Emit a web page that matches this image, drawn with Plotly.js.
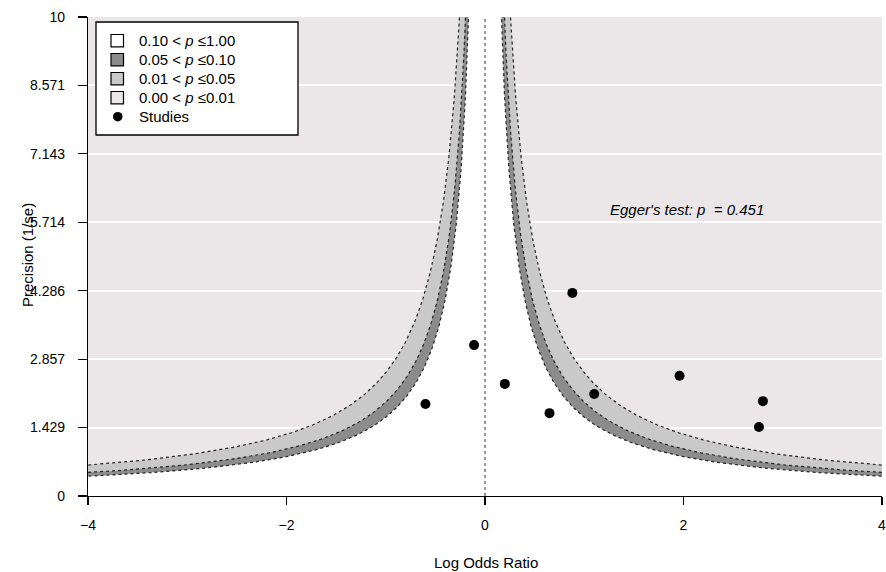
<!DOCTYPE html>
<html>
<head>
<meta charset="utf-8">
<script src="https://cdn.plot.ly/plotly-3.0.1.min.js"></script>
<style>
  html, body { margin: 0; padding: 0; background: #ffffff; }
  #chart { width: 886px; height: 572px; }
</style>
</head>
<body>
<div id="chart"></div>
<script>
// ---- data ----
var studyLogOR     = [-0.60, -0.11, 0.20, 0.65, 0.88, 1.10, 1.96, 2.80, 2.76];
var studyPrecision = [1.92, 3.15, 2.34, 1.73, 4.24, 2.13, 2.51, 1.98, 1.44];

// contour z-values (two-sided p = 0.10, 0.05, 0.01)
var contourZ      = [1.645, 1.96, 2.576];
var contourColors = ['#ffffff', '#8c8c8c', '#c9c9c9'];
var outerColor    = '#ebe6e8';

var legendLabels = [
  '0.10 &lt; <i>p</i> ≤1.00',
  '0.05 &lt; <i>p</i> ≤0.10',
  '0.01 &lt; <i>p</i> ≤0.05',
  '0.00 &lt; <i>p</i> ≤0.01',
  'Studies'
];
var legendFills = ['#ffffff', '#8c8c8c', '#c9c9c9', '#ebe6e8'];

var yTickVals = [0, 1.429, 2.857, 4.286, 5.714, 7.143, 8.571, 10];
var yTickText = ['0', '1.429', '2.857', '4.286', '5.714', '7.143', '8.571', '10'];
var xTickVals = [-4, -2, 0, 2, 4];
var xTickText = ['\u22124', '\u22122', '0', '2', '4'];

var eggerText = "Egger's test: <i>p</i>  = 0.451";
var xTitle = 'Log Odds Ratio';
var yTitle = 'Precision (1/se)';

// ---- contour curves x = ±z / precision ----
var precGrid = [];
(function () {
  var lo = Math.log(0.2), hi = Math.log(10.5), n = 300;
  for (var i = 0; i <= n; i++) precGrid.push(Math.exp(lo + (hi - lo) * i / n));
})();

function funnelPolygon(z) {
  var xs = [], ys = [];
  for (var i = precGrid.length - 1; i >= 0; i--) { xs.push(-z / precGrid[i]); ys.push(precGrid[i]); }
  xs.push(-z / precGrid[0]); ys.push(0);
  xs.push(z / precGrid[0]); ys.push(0);
  for (var j = 0; j < precGrid.length; j++) { xs.push(z / precGrid[j]); ys.push(precGrid[j]); }
  return { x: xs, y: ys };
}
function curve(z, sign) {
  return { x: precGrid.map(function (p) { return sign * z / p; }), y: precGrid.slice() };
}

var traces = [];
[2, 1, 0].forEach(function (k) {
  var poly = funnelPolygon(contourZ[k]);
  traces.push({
    type: 'scatter', mode: 'lines', x: poly.x, y: poly.y,
    fill: 'toself', fillcolor: contourColors[k],
    line: { width: 0 }, hoverinfo: 'skip', showlegend: false
  });
});
contourZ.forEach(function (z) {
  [-1, 1].forEach(function (s) {
    var c = curve(z, s);
    traces.push({
      type: 'scatter', mode: 'lines', x: c.x, y: c.y,
      line: { color: '#222222', width: 1.2, dash: 'dot' },
      hoverinfo: 'skip', showlegend: false
    });
  });
});
traces.push({
  type: 'scatter', mode: 'lines', x: [0, 0], y: [0, 10],
  line: { color: '#333333', width: 1, dash: 'dot' },
  hoverinfo: 'skip', showlegend: false
});
traces.push({
  type: 'scatter', mode: 'markers', x: studyLogOR, y: studyPrecision,
  marker: { color: '#000000', size: 10 }, showlegend: false
});

var FONT = 'Liberation Sans, Arial, sans-serif';

// plot-area geometry (pixels) for placing the hand-built legend
var PL = 88, PR = 882, PT = 17, PB = 496;
function px(x) { return (x - PL) / (PR - PL); }
function py(y) { return (PB - y) / (PB - PT); }

var shapes = [{
  type: 'rect', xref: 'paper', yref: 'paper', layer: 'above',
  x0: px(96), x1: px(298), y0: py(135), y1: py(22),
  fillcolor: '#ffffff', line: { color: '#000000', width: 1.3 }
}];
var annotations = [];
var rowY0 = 40.7, rowStep = 19;
legendLabels.forEach(function (lab, i) {
  var cy = rowY0 + rowStep * i;
  if (i < 4) {
    shapes.push({
      type: 'rect', xref: 'paper', yref: 'paper', layer: 'above',
      x0: px(111), x1: px(123.5), y0: py(cy + 6.2), y1: py(cy - 6.2),
      fillcolor: legendFills[i], line: { color: '#000000', width: 1.2 }
    });
  } else {
    shapes.push({
      type: 'circle', xref: 'paper', yref: 'paper', layer: 'above',
      x0: px(113), x1: px(122.5), y0: py(cy + 4.75), y1: py(cy - 4.75),
      fillcolor: '#000000', line: { color: '#000000', width: 0 }
    });
  }
  annotations.push({
    text: lab, xref: 'paper', yref: 'paper', x: px(137), y: py(cy),
    xanchor: 'left', yanchor: 'middle', showarrow: false,
    font: { family: FONT, size: 15, color: '#000000' }
  });
});

annotations.push(
  {
    text: eggerText, xref: 'x', yref: 'y', x: 2.035, y: 5.99,
    xanchor: 'center', yanchor: 'middle',
    showarrow: false, font: { family: FONT, size: 15, style: 'italic' }
  },
  {
    text: xTitle, xref: 'paper', yref: 'paper',
    x: px(486), y: py(562), xanchor: 'center', yanchor: 'middle', showarrow: false,
    font: { family: FONT, size: 15 }
  },
  {
    text: yTitle, xref: 'paper', yref: 'paper',
    x: px(27), y: py(255), xanchor: 'center', yanchor: 'middle', textangle: -90,
    showarrow: false, font: { family: FONT, size: 15 }
  }
);

var layout = {
  width: 886, height: 572,
  margin: { l: PL, r: 886 - PR, t: PT, b: 572 - PB },
  paper_bgcolor: '#ffffff',
  plot_bgcolor: outerColor,
  font: { family: FONT, size: 14, color: '#000000' },
  showlegend: false,
  xaxis: {
    range: [-4, 4], tickvals: xTickVals, ticktext: xTickText,
    showgrid: false, zeroline: false,
    showline: true, linecolor: '#000000', linewidth: 1.2,
    ticks: 'outside', ticklen: 8, tickwidth: 1.2, tickcolor: '#000000',
    ticklabelstandoff: 8, ticklabeloverflow: 'allow',
    tickfont: { family: FONT, size: 14 }
  },
  yaxis: {
    range: [0, 10], tickvals: yTickVals, ticktext: yTickText,
    showgrid: true, gridcolor: '#ffffff', gridwidth: 2, zeroline: false,
    showline: true, linecolor: '#000000', linewidth: 1.2,
    ticks: 'outside', ticklen: 9, tickwidth: 1.2, tickcolor: '#000000',
    ticklabelstandoff: 10, ticklabeloverflow: 'allow',
    tickfont: { family: FONT, size: 14 }
  },
  shapes: shapes,
  annotations: annotations
};

Plotly.newPlot('chart', traces, layout, { displayModeBar: false, staticPlot: true });
</script>
</body>
</html>
